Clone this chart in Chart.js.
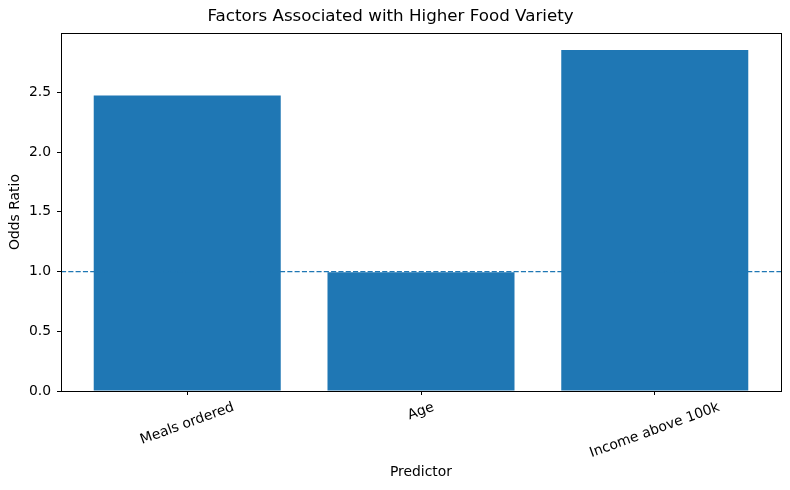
<!DOCTYPE html>
<html>
<head>
<meta charset="utf-8">
<script src="https://cdn.jsdelivr.net/npm/chart.js@4.4.0/dist/chart.umd.min.js"></script>
<style>
  html, body { margin: 0; padding: 0; background: #fff; }
  #wrap { width: 790px; height: 490px; }
</style>
</head>
<body>
<div id="wrap"><canvas id="chart" width="790" height="490"></canvas></div>
<script>
'use strict';
const predictors = ['Meals ordered', 'Age', 'Income above 100k'];
const oddsRatios = [2.475, 0.995, 2.855];
const referenceLine = 1.0;
const yTicks = [0, 0.5, 1.0, 1.5, 2.0, 2.5];

const FONT = 'DejaVu Sans';
const barColor = '#1f77b4';

// full box around the plot, like matplotlib spines
const framePlugin = {
    id: 'frame',
    afterDatasetsDraw(chart) {
        const { ctx, chartArea: a } = chart;
        ctx.save();
        ctx.strokeStyle = '#000';
        ctx.lineWidth = 1;
        ctx.strokeRect(Math.round(a.left) + 0.5, Math.round(a.top) + 0.5,
            Math.round(a.right - a.left), Math.round(a.bottom - a.top));
        ctx.restore();
    }
};

// rotated category labels centred under each tick
const xLabelPlugin = {
    id: 'xLabels',
    afterDraw(chart) {
        const { ctx, scales } = chart;
        const xs = scales.x;
        const size = 13.9;
        ctx.save();
        ctx.font = size + 'px "' + FONT + '"';
        ctx.fillStyle = '#000';
        ctx.textAlign = 'center';
        ctx.textBaseline = 'middle';
        const ang = 20 * Math.PI / 180;
        const top = chart.chartArea.bottom + 8.4;
        predictors.forEach((label, i) => {
            const w = ctx.measureText(label).width;
            const h = w * Math.sin(ang) + 16 * Math.cos(ang);
            const x = xs.getPixelForValue(i);
            ctx.save();
            ctx.translate(x, top + h / 2);
            ctx.rotate(-ang);
            ctx.fillText(label, 0, 0);
            ctx.restore();
        });
        ctx.restore();
    }
};

const xMin = -0.54, xMax = 2.54;

new Chart(document.getElementById('chart'), {
    data: {
        datasets: [
            {
                type: 'line',
                data: [{ x: xMin, y: referenceLine }, { x: xMax, y: referenceLine }],
                borderColor: barColor,
                borderWidth: 1.4,
                borderDash: [5.1, 2.2],
                pointRadius: 0,
                order: 0
            },
            {
                type: 'bar',
                data: predictors.map((p, i) => ({ x: i, y: oddsRatios[i] })),
                backgroundColor: barColor,
                borderWidth: 0,
                inflateAmount: 0,
                barPercentage: 0.8,
                categoryPercentage: 1.0,
                order: 1
            }
        ]
    },
    options: {
        responsive: false,
        animation: false,
        layout: { padding: { left: 0, right: 9, top: 0, bottom: 0 } },
        plugins: {
            legend: { display: false },
            tooltip: { enabled: false },
            title: {
                display: true,
                text: 'Factors Associated with Higher Food Variety',
                color: '#000',
                font: { family: FONT, size: 16.7, weight: 'normal' },
                padding: { top: 7, bottom: 6 }
            }
        },
        scales: {
            x: {
                type: 'linear',
                min: xMin,
                max: xMax,
                offset: false,
                afterBuildTicks: s => { s.ticks = predictors.map((p, i) => ({ value: i })); },
                afterFit: s => { s.height = 99; },
                ticks: { display: false },
                grid: { offset: false, drawOnChartArea: false, color: '#000', tickLength: 4, tickWidth: 1 },
                border: { display: false },
                title: {
                    display: true,
                    text: 'Predictor',
                    color: '#000',
                    font: { family: FONT, size: 13.9 },
                    padding: { top: 0, bottom: 9.5 }
                }
            },
            y: {
                min: 0,
                max: 2.9975,
                afterBuildTicks: s => { s.ticks = yTicks.map(v => ({ value: v })); },
                afterFit: s => { s.width = 61; },
                ticks: {
                    color: '#000',
                    padding: 6,
                    font: { family: FONT, size: 13.9 },
                    callback: v => v.toFixed(1)
                },
                grid: { drawOnChartArea: false, color: '#000', tickLength: 4, tickWidth: 1 },
                border: { display: false },
                title: {
                    display: true,
                    text: 'Odds Ratio',
                    color: '#000',
                    font: { family: FONT, size: 13.9 },
                    padding: { top: 7, bottom: 0 }
                }
            }
        }
    },
    plugins: [framePlugin, xLabelPlugin]
});
</script>
</body>
</html>
